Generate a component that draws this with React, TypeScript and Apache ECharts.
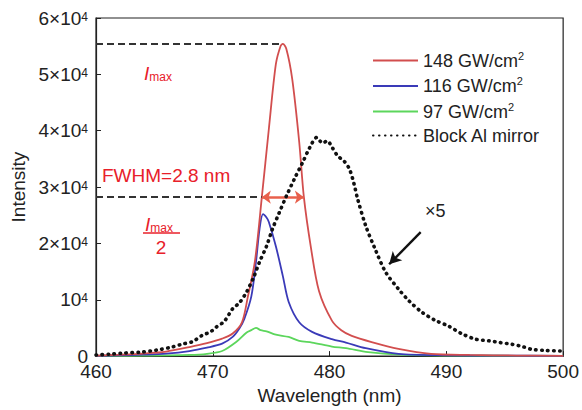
import React, { useEffect, useRef } from "react";
import * as echarts from "echarts";

// ---- data ----
const xTicks = [460, 470, 480, 490, 500];
const yTickExp = [0, 1, 2, 3, 4, 5, 6];

const redX = [460, 462, 464, 466, 468, 469.5, 470.8, 471.7, 472.5, 473.0, 473.6, 474.2, 474.8, 475.4, 475.8, 476.0, 476.3, 476.8, 477.4, 477.8, 478.4, 479.1, 480.2, 481.0, 481.9, 483.6, 485.9, 488.7, 492, 496, 500];
const redY = [100, 250, 450, 800, 1600, 2300, 3100, 4000, 6000, 10500, 16700, 28200, 40300, 51800, 55000, 55400, 54500, 49200, 38000, 28200, 19300, 11500, 6300, 4600, 3600, 2500, 1300, 400, 200, 100, 50];

const blueX = [460, 462, 464, 466, 468, 469.5, 470.8, 471.7, 472.3, 472.7, 473.3, 473.7, 474.0, 474.3, 474.6, 474.8, 475.4, 476.0, 476.5, 477.4, 478.5, 480.2, 481.4, 483.1, 485.9, 490, 495, 500];
const blueY = [50, 120, 250, 450, 900, 1500, 2200, 3400, 5000, 6600, 10600, 16700, 22500, 25200, 24600, 23800, 19500, 14200, 9600, 6000, 4300, 3000, 2400, 1400, 400, 150, 80, 50];

const greenX = [460, 464, 468, 469.5, 470.8, 472.0, 472.9, 473.3, 473.7, 474.1, 474.6, 475.4, 476.5, 477.4, 478.5, 480.2, 481.4, 483.3, 486, 490, 500];
const greenY = [30, 80, 200, 400, 900, 2500, 4200, 4600, 5000, 4600, 4400, 3800, 3400, 2700, 2400, 1700, 1400, 700, 250, 100, 30];

const blackX = [460, 461.2, 462.3, 463.8, 465.2, 466.5, 467.4, 468.3, 469.1, 469.8, 470.3, 471.0, 471.7, 472.3, 472.9, 473.5, 474.0, 474.6, 475.1, 475.7, 476.3, 477.0, 477.7, 478.3, 478.9, 479.4, 479.8, 480.2, 480.7, 481.2, 481.7, 482.1, 482.4, 483.1, 483.9, 484.8, 485.9, 486.8, 487.9, 489, 490.2, 491.3, 492.5, 493.7, 494.6, 495.6, 496.5, 497.3, 498.5, 499.8];
const blackY = [200, 350, 530, 700, 1070, 1600, 2130, 2600, 3700, 4300, 5150, 6200, 8400, 9500, 11400, 14000, 16700, 19500, 22500, 25500, 28400, 31500, 34400, 37000, 38800, 37800, 38200, 37100, 35500, 34700, 33200, 30500, 27900, 23100, 19000, 14900, 11900, 9800, 7800, 6400, 5300, 4000, 3000, 2700, 2400, 2100, 1700, 1200, 1000, 900];

const seriesNames = ["148 GW/cm²", "116 GW/cm²", "97 GW/cm²", "Block Al mirror"];

const iMax = 55400;
const iMaxX = 476.0;
const halfLevel = 28200;
const halfLeft = 474.2;
const halfRight = 477.8;
const arrowFrom = [487.8, 22000];
const arrowTo = [485.1, 16300];

const pair = (xs: number[], ys: number[]) => xs.map((x, i) => [x, ys[i]]);

const FONT = "'Liberation Sans', Arial, Helvetica, sans-serif";
const RED_TXT = "#e8202a";

export default function App() {
  const ref = useRef<HTMLDivElement>(null);
  useEffect(() => {
    if (!ref.current) return;
    const chart = echarts.init(ref.current, undefined, { renderer: "svg" });
    const dashed = { color: "#333", width: 1.8, type: [7, 4] as number[] };
    chart.setOption({
      animation: false,
      backgroundColor: "#fff",
      grid: { left: 96, right: 17, top: 18, bottom: 53, show: true, borderColor: "#222", borderWidth: 1.2 },
      xAxis: {
        type: "value",
        min: xTicks[0],
        max: xTicks[xTicks.length - 1],
        interval: 10,
        name: "Wavelength (nm)",
        nameLocation: "middle",
        nameGap: 28,
        nameTextStyle: { fontSize: 19, color: "#222", fontFamily: FONT },
        axisLine: { lineStyle: { color: "#222", width: 1.2 } },
        axisTick: { inside: true, length: 5, lineStyle: { color: "#222" } },
        axisLabel: { fontSize: 19, color: "#222", fontFamily: FONT, margin: 8, lineHeight: 15 },
        splitLine: { show: false },
      },
      yAxis: {
        type: "value",
        min: 0,
        max: yTickExp[yTickExp.length - 1] * 10000,
        interval: 10000,
        name: "Intensity",
        nameLocation: "middle",
        nameGap: 68,
        nameTextStyle: { fontSize: 19, color: "#222", fontFamily: FONT },
        axisLine: { lineStyle: { color: "#222", width: 1.2 } },
        axisTick: { inside: true, length: 5, lineStyle: { color: "#222" } },
        axisLabel: {
          margin: 8,
          formatter: (v: number) => {
            const n = Math.round(v / 10000);
            if (n === 0) return "{a|0}";
            if (n === 1) return "{a|10}{s|4}";
            return `{a|${n}×10}{s|4}`;
          },
          rich: {
            a: { fontSize: 19, color: "#222", fontFamily: FONT, lineHeight: 15 },
            s: { fontSize: 12, color: "#222", fontFamily: FONT, verticalAlign: "top", lineHeight: 10 },
          },
        },
        splitLine: { show: false },
      },
      legend: {
        orient: "vertical",
        left: 372,
        top: 50,
        padding: 0,
        itemWidth: 45,
        itemHeight: 14,
        itemGap: 6,
        data: seriesNames,
        itemStyle: { opacity: 0 },
        formatter: (name: string) => {
          if (name.endsWith("²")) return `{a|${name.slice(0, -1)}}{s|2}`;
          return `{a|${name}}`;
        },
        textStyle: {
          rich: {
            a: { fontSize: 18, color: "#222", fontFamily: FONT, lineHeight: 21 },
            s: { fontSize: 11, color: "#222", fontFamily: FONT, verticalAlign: "top", lineHeight: 11 },
          },
        },
      },
      series: [
        {
          name: seriesNames[0],
          type: "line",
          data: pair(redX, redY),
          symbol: "none",
          smooth: 0.3,
          lineStyle: { color: "#d24e4e", width: 1.8 },
          itemStyle: { color: "#d24e4e" },
          z: 4,
          markLine: {
            silent: true,
            symbol: "none",
            label: { show: false },
            emphasis: { disabled: true },
            data: [
              [
                { coord: [xTicks[0], iMax], lineStyle: dashed },
                { coord: [iMaxX, iMax] },
              ],
              [
                { coord: [xTicks[0], halfLevel], lineStyle: dashed },
                { coord: [halfLeft, halfLevel] },
              ],
              [
                { coord: [halfLeft, halfLevel], symbol: "arrow", symbolSize: [10, 9], lineStyle: { color: "#e8604c", width: 2.6, type: "solid" } },
                { coord: [halfRight, halfLevel], symbol: "arrow", symbolSize: [10, 9] },
              ],
            ],
          },
        },
        {
          name: seriesNames[1],
          type: "line",
          data: pair(blueX, blueY),
          symbol: "none",
          smooth: 0.3,
          lineStyle: { color: "#3a3ab8", width: 1.8 },
          itemStyle: { color: "#3a3ab8" },
          z: 3,
        },
        {
          name: seriesNames[2],
          type: "line",
          data: pair(greenX, greenY),
          symbol: "none",
          smooth: 0.3,
          lineStyle: { color: "#5cd65c", width: 1.8 },
          itemStyle: { color: "#5cd65c" },
          z: 2,
        },
        {
          name: seriesNames[3],
          type: "line",
          data: pair(blackX, blackY),
          symbol: "none",
          smooth: 0.3,
          lineStyle: { color: "#111", width: 3.6, type: [0.5, 5.5], cap: "round" },
          itemStyle: { color: "#111" },
          z: 5,
          markLine: {
            silent: true,
            label: { show: false },
            emphasis: { disabled: true },
            data: [
              [
                { coord: arrowFrom, symbol: "none", lineStyle: { color: "#111", width: 2.4, type: "solid" } },
                { coord: arrowTo, symbol: "arrow", symbolSize: [10, 12] },
              ],
            ],
          },
        },
      ],
      graphic: [
        {
          type: "text",
          x: 144,
          y: 73,
          style: {
            text: "{i|I}{m|max}",
            verticalAlign: "middle",
            rich: {
              i: { fontSize: 19, fontStyle: "italic", fill: RED_TXT, fontFamily: FONT, lineHeight: 20 },
              m: { fontSize: 12, fill: RED_TXT, fontFamily: FONT, verticalAlign: "bottom", lineHeight: 14 },
            },
          },
        },
        {
          type: "text",
          x: 102,
          y: 175,
          style: { text: "FWHM=2.8 nm", fontSize: 19, fill: RED_TXT, fontFamily: FONT, verticalAlign: "middle" },
        },
        {
          type: "text",
          x: 145,
          y: 224,
          style: {
            text: "{i|I}{m|max}",
            verticalAlign: "middle",
            rich: {
              i: { fontSize: 19, fontStyle: "italic", fill: RED_TXT, fontFamily: FONT, lineHeight: 20 },
              m: { fontSize: 12, fill: RED_TXT, fontFamily: FONT, verticalAlign: "bottom", lineHeight: 14 },
            },
          },
        },
        {
          type: "line",
          shape: { x1: 143, y1: 233, x2: 180, y2: 233 },
          style: { stroke: RED_TXT, lineWidth: 1.5 },
        },
        {
          type: "text",
          x: 161,
          y: 247,
          style: { text: "2", fontSize: 19, fill: RED_TXT, fontFamily: FONT, align: "center", verticalAlign: "middle" },
        },
        {
          type: "text",
          x: 425,
          y: 211,
          style: { text: "×5", fontSize: 18, fill: "#222", fontFamily: FONT, verticalAlign: "middle" },
        },
      ],
    });
    return () => chart.dispose();
  }, []);
  return <div ref={ref} style={{ position: "absolute", left: 0, top: 0, width: 582, height: 410 }} />;
}
